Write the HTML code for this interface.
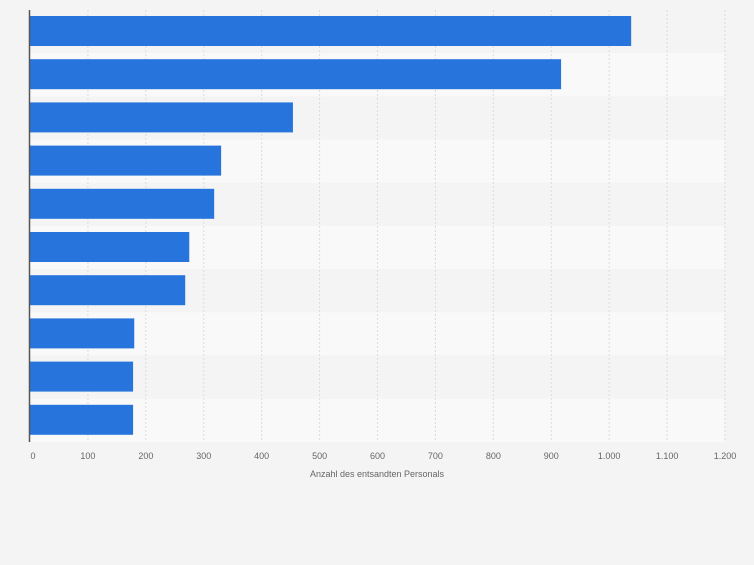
<!DOCTYPE html>
<html><head><meta charset="utf-8"><style>
body{margin:0;background:#f4f4f4;font-family:"Liberation Sans",sans-serif}
</style></head><body>
<svg width="754" height="560" xmlns="http://www.w3.org/2000/svg" id="chart">
<rect width="754" height="560" fill="#f4f4f4"/>
<g id="bands"></g><g id="grid"></g><g id="bars"></g><g id="ticks"></g>
<line x1="29.5" y1="10" x2="29.5" y2="442" stroke="#555" stroke-width="1.5"/>
<text x="377" y="477" font-size="9" fill="#666" text-anchor="middle">Anzahl des entsandten Personals</text>
</svg>
<script>
const categories=["A","B","C","D","E","F","G","H","I","J"];
const values=[1038,917,454,330,318,275,268,180,178,178];
const tickValues=[0,100,200,300,400,500,600,700,800,900,1000,1100,1200];
const tickLabels=["0","100","200","300","400","500","600","700","800","900","1.000","1.100","1.200"];
const NS="http://www.w3.org/2000/svg";
const x0=30,x1=725,yTop=10,yBottom=442,xmax=1200;
const xs=v=>x0+v/xmax*(x1-x0);
const rowH=(yBottom-yTop)/categories.length;
const ys=i=>yTop+i*rowH;
function mk(t,a,p){const e=document.createElementNS(NS,t);for(const k in a)e.setAttribute(k,a[k]);document.getElementById(p).appendChild(e);return e;}
categories.forEach((c,i)=>{
 const b=mk('rect',{x:x0,y:ys(i),width:x1-x0,height:rowH,fill:i%2?'#f9f9f9':'#f4f4f4'},'bands');
 
 
});
tickValues.forEach((v,i)=>{
 if(v>0){const g=mk('line',{x1:xs(v),x2:xs(v),y1:yTop,y2:yBottom,stroke:'#dcdcdc','stroke-dasharray':'2,2'},'grid');
 
 }
 const t=mk('text',{x:v===0?xs(v)+3:xs(v),y:459,'font-size':9,fill:'#666','text-anchor':'middle'},'ticks');
 t.textContent=tickLabels[i];
 
 
});
values.forEach((v,i)=>{
 const r=mk('rect',{x:x0,y:ys(i)+6,width:xs(v)-x0,height:30,fill:'#2775dc'},'bars');
 
 
});
</script>
</body></html>
